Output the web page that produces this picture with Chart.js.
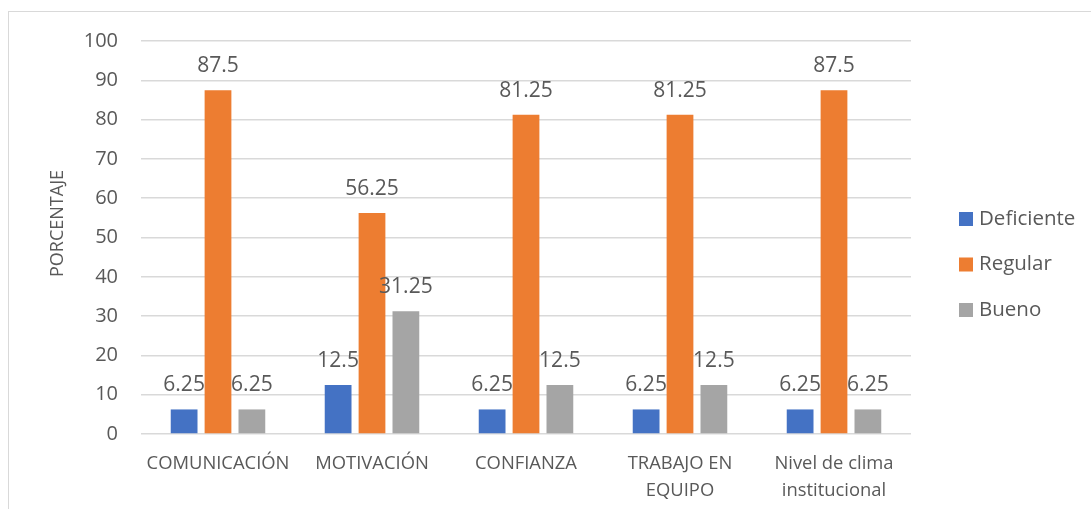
<!DOCTYPE html>
<html>
<head>
<meta charset="utf-8">
<script src="https://cdn.jsdelivr.net/npm/chart.js@4.4.1/dist/chart.umd.min.js"></script>
<style>
    body { margin: 0; background: #fff; overflow: hidden; }
    #wrap { position: relative; width: 1091px; height: 509px; }
    #frame { position: absolute; left: 8px; top: 11px; width: 1100px; height: 520px; border: 1.5px solid #d9d9d9; }
    #chart { position: absolute; left: 0; top: 0; }
</style>
</head>
<body>
<div id="wrap">
    <div id="frame"></div>
    <canvas id="chart" width="1091" height="509"></canvas>
</div>
<script>
// Data
const categories = ['COMUNICACIÓN', 'MOTIVACIÓN', 'CONFIANZA', ['TRABAJO EN', 'EQUIPO'], ['Nivel de clima', 'institucional']];
const seriesNames = ['Deficiente', 'Regular', 'Bueno'];
const deficiente = [6.25, 12.5, 6.25, 6.25, 6.25];
const regular = [87.5, 56.25, 81.25, 81.25, 87.5];
const bueno = [6.25, 31.25, 12.5, 12.5, 6.25];
const colors = ['#4472C4', '#ED7D31', '#A5A5A5'];

const textColor = '#595959';
const fontFamily = '"Open Sans", sans-serif';

// Value labels above bars
const valueLabels = {
    id: 'valueLabels',
    afterDatasetsDraw(chart) {
        const ctx = chart.ctx;
        ctx.save();
        ctx.font = `21px ${fontFamily}`;
        ctx.fillStyle = textColor;
        ctx.textAlign = 'center';
        ctx.textBaseline = 'middle';
        chart.data.datasets.forEach((ds, di) => {
            chart.getDatasetMeta(di).data.forEach((el, i) => {
                ctx.fillText(String(ds.data[i]), el.x, el.y - 24);
            });
        });
        ctx.restore();
    }
};

// Right side legend + rotated y title
const sideBits = {
    id: 'sideBits',
    afterDraw(chart) {
        const ctx = chart.ctx;
        const area = chart.chartArea;
        ctx.save();
        ctx.font = `20.5px ${fontFamily}`;
        ctx.textBaseline = 'middle';
        ctx.textAlign = 'left';
        const midY = (area.top + area.bottom) / 2 + 27;
        chart.data.datasets.forEach((ds, i) => {
            const y = midY + (i - 1) * 45.5;
            ctx.fillStyle = ds.backgroundColor;
            ctx.fillRect(area.right + 48, y - 7, 14, 14);
            ctx.fillStyle = textColor;
            ctx.fillText(ds.label, area.right + 68, y);
        });

        ctx.translate(58, (area.top + area.bottom) / 2 - 14);
        ctx.rotate(-Math.PI / 2);
        ctx.textAlign = 'center';
        ctx.font = `18px ${fontFamily}`;
        ctx.fillText('PORCENTAJE', 0, 0);
        ctx.restore();
    }
};

const seriesValues = [deficiente, regular, bueno];

new Chart(document.getElementById('chart'), {
    type: 'bar',
    data: {
        labels: categories,
        datasets: seriesNames.map((name, i) => ({
            label: name,
            data: seriesValues[i],
            backgroundColor: colors[i],
            categoryPercentage: 0.66,
            barPercentage: 0.79
        }))
    },
    options: {
        responsive: false,
        animation: false,
        layout: { padding: { top: 41, right: 180, bottom: 0, left: 0 } },
        plugins: {
            legend: { display: false },
            tooltip: { enabled: false }
        },
        scales: {
            x: {
                grid: { display: false, drawTicks: false },
                border: { display: false },
                ticks: {
                    color: textColor,
                    font: { family: fontFamily, size: 18.4, lineHeight: 1.47 },
                    padding: 16,
                    maxRotation: 0,
                    autoSkip: false
                },
                afterFit(scale) { scale.height = 75; }
            },
            y: {
                min: 0,
                max: 100,
                ticks: {
                    stepSize: 10,
                    color: textColor,
                    font: { family: fontFamily, size: 20 },
                    padding: 23
                },
                grid: { color: '#d9d9d9', lineWidth: 1.5, drawTicks: false },
                border: { display: false },
                afterFit(scale) { scale.width = 141; }
            }
        }
    },
    plugins: [valueLabels, sideBits]
});
</script>
</body>
</html>
